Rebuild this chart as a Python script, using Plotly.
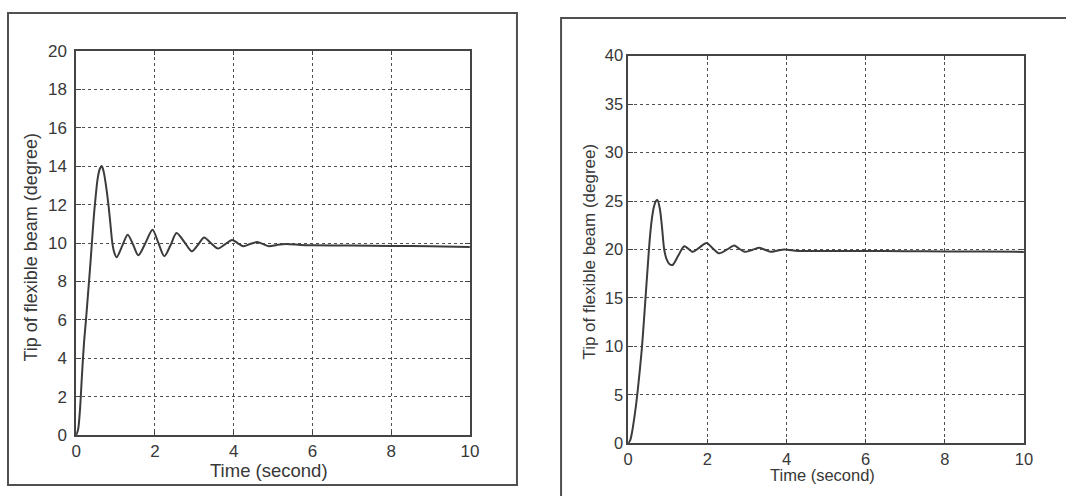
import plotly.graph_objects as go

# Step response of the flexible-beam tip, 10 degree command
t_left = [0, 0.05, 0.1, 0.15, 0.2, 0.25, 0.3, 0.35, 0.4, 0.45, 0.5, 0.55, 0.6, 0.65,
          0.7, 0.75, 0.82, 0.87, 0.92, 0.97, 1.03, 1.17, 1.31, 1.45, 1.58, 1.76,
          1.94, 2.09, 2.24, 2.4, 2.55, 2.75, 2.94, 3.1, 3.25, 3.42, 3.6, 3.78,
          3.96, 4.1, 4.25, 4.42, 4.6, 4.75, 4.9, 5.1, 5.33, 5.7, 6.0, 7.0, 8.0, 9.0, 10.0]
y_left = [0, 0.3, 1.4, 3.2, 4.8, 6.0, 7.3, 8.6, 10.0, 11.4, 12.5, 13.4, 13.85, 14.0,
          13.7, 13.1, 12.0, 11.0, 10.0, 9.5, 9.26, 9.85, 10.43, 9.9, 9.36, 10.0,
          10.69, 10.0, 9.31, 9.9, 10.52, 10.05, 9.57, 9.92, 10.29, 10.0, 9.71, 9.93,
          10.16, 10.0, 9.83, 9.95, 10.05, 9.94, 9.83, 9.9, 9.95, 9.9, 9.88, 9.87, 9.85, 9.83, 9.8]

# Step response of the flexible-beam tip, 20 degree command
t_right = [0, 0.05, 0.1, 0.15, 0.2, 0.25, 0.3, 0.35, 0.4, 0.45, 0.5, 0.55, 0.6, 0.65,
           0.7, 0.74, 0.8, 0.85, 0.91, 0.97, 1.04, 1.12, 1.27, 1.42, 1.63, 1.8,
           1.98, 2.14, 2.3, 2.5, 2.68, 2.8, 2.94, 3.13, 3.32, 3.47, 3.61, 3.78,
           3.95, 4.3, 5.0, 6.0, 7.0, 8.0, 9.0, 10.0]
y_right = [0, 0.3, 1.2, 2.5, 4.0, 5.8, 7.8, 10.0, 12.8, 15.7, 18.6, 21.3, 23.2, 24.4,
           25.0, 25.1, 24.2, 22.5, 20.0, 19.0, 18.5, 18.4, 19.4, 20.34, 19.76, 20.2,
           20.68, 20.1, 19.6, 20.0, 20.4, 20.1, 19.76, 19.95, 20.17, 19.95, 19.76, 19.9,
           20.0, 19.85, 19.85, 19.85, 19.82, 19.8, 19.78, 19.75]

x_ticks = [0, 2, 4, 6, 8, 10]
y_ticks_left = [0, 2, 4, 6, 8, 10, 12, 14, 16, 18, 20]
y_ticks_right = [0, 5, 10, 15, 20, 25, 30, 35, 40]

x_title = "Time (second)"
y_title = "Tip of flexible beam (degree)"

PAGE_W, PAGE_H = 1066, 496
# drawing area left inside the page's 8px body margin
INSET = 8
AREA_W, AREA_H = PAGE_W - 2 * INSET, PAGE_H - 2 * INSET
INK = "#383838"
FONT = "Liberation Sans, Arial, Helvetica, sans-serif"


def px(x):
    """Page pixel column -> paper x."""
    return (x - INSET) / AREA_W


def py(y):
    """Page pixel row -> paper y."""
    return 1 - (y - INSET) / AREA_H


fig = go.Figure()
fig.add_trace(go.Scatter(x=t_left, y=y_left, mode="lines", xaxis="x", yaxis="y",
                         line=dict(color="#3c3c3c", width=2, shape="spline", smoothing=0.8),
                         showlegend=False, hoverinfo="skip"))
fig.add_trace(go.Scatter(x=t_right, y=y_right, mode="lines", xaxis="x2", yaxis="y2",
                         line=dict(color="#3c3c3c", width=2, shape="spline", smoothing=0.8),
                         showlegend=False, hoverinfo="skip"))

axis_common = dict(
    showline=True, mirror="ticks", linecolor="#444444", linewidth=1.5,
    ticks="inside", ticklen=5, tickcolor="#444444", tickwidth=1,
    showgrid=True, gridcolor="#505050", gridwidth=1.3, griddash="dot",
    zeroline=False, fixedrange=True,
)
left_font = dict(family=FONT, size=17, color=INK)
right_font = dict(family=FONT, size=16.5, color=INK)


def label(text, x, y, size, angle=0):
    return dict(text=text, xref="paper", yref="paper", x=px(x), y=py(y),
                xanchor="center", yanchor="middle", textangle=angle,
                showarrow=False, font=dict(family=FONT, size=size, color=INK))


fig.update_layout(
    width=PAGE_W, height=PAGE_H,
    margin=dict(l=0, r=0, t=0, b=0),
    paper_bgcolor="white", plot_bgcolor="white",
    xaxis=dict(domain=[px(79), px(472)], range=[0, 10], tickvals=x_ticks,
               anchor="y", tickfont=left_font, **axis_common),
    yaxis=dict(domain=[py(437), py(50)], range=[0, 20], tickvals=y_ticks_left,
               anchor="x", ticklabelstandoff=4, tickfont=left_font, **axis_common),
    xaxis2=dict(domain=[px(630), px(1025)], range=[0, 10], tickvals=x_ticks,
                anchor="y2", tickfont=right_font, **axis_common),
    yaxis2=dict(domain=[py(445), py(55)], range=[0, 40], tickvals=y_ticks_right,
                anchor="x2", ticklabelstandoff=0, tickfont=right_font, **axis_common),
    shapes=[
        # frame around the left figure
        dict(type="rect", xref="paper", yref="paper",
             x0=px(11), x1=px(519), y0=py(487), y1=py(12),
             line=dict(color="#505050", width=2)),
        # frame around the right figure (runs off the page)
        dict(type="rect", xref="paper", yref="paper",
             x0=px(563), x1=px(1090), y0=py(520), y1=py(17),
             line=dict(color="#505050", width=2)),
    ],
    annotations=[
        label(x_title, 271, 472, 18.5),
        label(y_title, 33, 248, 18, -90),
        label(x_title, 824, 477, 16.5),
        label(y_title, 591, 252, 17, -90),
    ],
)

fig.write_html("out.html")
